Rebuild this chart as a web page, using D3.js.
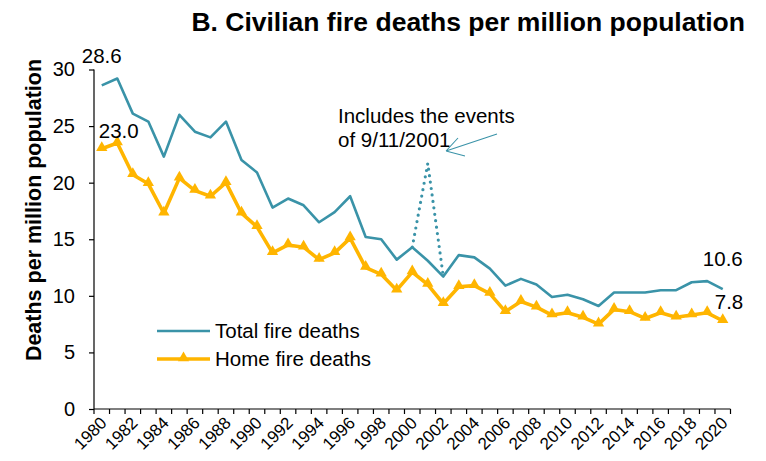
<!DOCTYPE html>
<html>
<head>
<meta charset="utf-8">
<script src="https://cdn.jsdelivr.net/npm/d3@7/dist/d3.min.js"></script>
<style>
  html, body { margin: 0; padding: 0; background: #fff; }
  svg { display: block; font-family: "Liberation Sans", Arial, sans-serif; }
</style>
</head>
<body>
<svg id="chart" width="766" height="461"></svg>
<script>
// Civilian fire deaths per million population, 1980-2020
const years = d3.range(1980, 2021);
const totalDeaths = [
  28.6, 29.2, 26.1, 25.4, 22.3, 26.0, 24.5, 24.0, 25.4, 22.0,
  20.9, 17.8, 18.6, 18.0, 16.5, 17.4, 18.8, 15.2, 15.0, 13.2,
  14.3, 13.1, 11.7, 13.6, 13.4, 12.4, 10.9, 11.5, 11.0, 9.9,
  10.1, 9.7, 9.1, 10.3, 10.3, 10.3, 10.5, 10.5, 11.2, 11.3,
  10.6
];
const homeDeaths = [
  23.0, 23.5, 20.7, 19.9, 17.3, 20.4, 19.3, 18.8, 20.0, 17.3,
  16.1, 13.8, 14.5, 14.3, 13.2, 13.8, 15.1, 12.5, 11.9, 10.5,
  12.1, 11.0, 9.3, 10.8, 10.9, 10.2, 8.6, 9.5, 9.0, 8.3,
  8.5, 8.1, 7.5, 8.8, 8.6, 8.0, 8.5, 8.1, 8.3, 8.5,
  7.8
];
// Total including the events of 9/11/2001
const sept11Years = [2000, 2001, 2002];
const sept11Total = [14.3, 21.7, 11.7];

const yTicks = [0, 5, 10, 15, 20, 25, 30];
const xTickLabels = years.filter(y => y % 2 === 0);

const TEAL = "#3A93A8";
const GOLD = "#FFB500";

const svg = d3.select("#chart");
const plot = { left: 94, right: 730.5, top: 69.5, bottom: 409 };

const x = d3.scaleBand().domain(years).range([plot.left, plot.right]).paddingInner(0).paddingOuter(0);
const cx = yr => x(yr) + x.bandwidth() / 2;
const y = d3.scaleLinear().domain([0, 30]).range([plot.bottom, plot.top]);

// Title
svg.append("text")
  .attr("x", 745).attr("y", 31)
  .attr("text-anchor", "end")
  .attr("font-size", 26.5).attr("font-weight", "bold")
  .text("B. Civilian fire deaths per million population");

// Y axis
const yAxis = svg.append("g")
  .attr("transform", `translate(${plot.left},0)`)
  .call(d3.axisLeft(y).tickValues(yTicks).tickSize(5).tickPadding(14).tickFormat(d3.format("d")));
yAxis.selectAll("text").attr("font-size", 20).attr("font-family", "Liberation Sans, Arial, sans-serif").attr("fill", "#000");
yAxis.selectAll("line, path").attr("stroke", "#000").attr("stroke-width", 1.2);
yAxis.select(".domain").attr("d", `M0,${plot.top}V${plot.bottom}`);

svg.append("text")
  .attr("transform", `translate(41,210) rotate(-90)`)
  .attr("text-anchor", "middle")
  .attr("font-size", 21.5).attr("font-weight", "bold")
  .text("Deaths per million population");

// X axis: category axis with ticks between categories
const xAxis = svg.append("g").attr("transform", `translate(0,${plot.bottom})`);
xAxis.append("line")
  .attr("x1", plot.left).attr("x2", plot.right)
  .attr("stroke", "#000").attr("stroke-width", 1.2);
const boundaries = years.map(yr => x(yr)).concat([plot.right]);
xAxis.selectAll("line.tick").data(boundaries).join("line")
  .attr("class", "tick")
  .attr("x1", d => d).attr("x2", d => d)
  .attr("y1", 0).attr("y2", 5)
  .attr("stroke", "#000").attr("stroke-width", 1.2);
xAxis.selectAll("text.lbl").data(xTickLabels).join("text")
  .attr("class", "lbl")
  .attr("transform", d => `translate(${cx(d) + 6},${15}) rotate(-45)`)
  .attr("text-anchor", "end")
  .attr("font-size", 17)
  .text(d => d);

// Lines
const line = d3.line().x(d => cx(d[0])).y(d => y(d[1]));

svg.append("path")
  .datum(sept11Years.map((yr, i) => [yr, sept11Total[i]]))
  .attr("d", line)
  .attr("fill", "none").attr("stroke", TEAL)
  .attr("stroke-width", 3.2).attr("stroke-linecap", "round")
  .attr("stroke-dasharray", "0 6.5");

svg.append("path")
  .datum(years.map((yr, i) => [yr, totalDeaths[i]]))
  .attr("d", line)
  .attr("fill", "none").attr("stroke", TEAL).attr("stroke-width", 2.6)
  .attr("stroke-linejoin", "round");

svg.append("path")
  .datum(years.map((yr, i) => [yr, homeDeaths[i]]))
  .attr("d", line)
  .attr("fill", "none").attr("stroke", GOLD).attr("stroke-width", 3.6)
  .attr("stroke-linejoin", "round");

const tri = d3.symbol().type(d3.symbolTriangle).size(55);
svg.selectAll("path.marker").data(years.map((yr, i) => [yr, homeDeaths[i]])).join("path")
  .attr("class", "marker")
  .attr("d", tri)
  .attr("transform", d => `translate(${cx(d[0])},${y(d[1]) - 1})`)
  .attr("fill", GOLD);

// Value labels at the ends
const fmt = d3.format(".1f");
const labels = [
  { yr: 1980, v: totalDeaths[0], dx: -20, dy: -22, anchor: "start" },
  { yr: 1980, v: homeDeaths[0], dx: -3, dy: -11, anchor: "start" },
  { yr: 2020, v: totalDeaths[totalDeaths.length - 1], dx: 20, dy: -23, anchor: "end" },
  { yr: 2020, v: homeDeaths[homeDeaths.length - 1], dx: 20.5, dy: -12, anchor: "end" }
];
svg.selectAll("text.val").data(labels).join("text")
  .attr("class", "val")
  .attr("x", d => cx(d.yr) + d.dx)
  .attr("y", d => y(d.v) + d.dy)
  .attr("text-anchor", d => d.anchor)
  .attr("font-size", 20.5)
  .text(d => fmt(d.v));

// Annotation for 2001
const ann = svg.append("g");
ann.append("text")
  .attr("x", 338).attr("y", 123)
  .attr("font-size", 20.5)
  .selectAll("tspan").data(["Includes the events", "of 9/11/2001"]).join("tspan")
  .attr("x", 338).attr("dy", (d, i) => i === 0 ? 0 : 24)
  .text(d => d);
const tip = [446, 151];
ann.append("path")
  .attr("d", `M${tip[0]},${tip[1]}L497,134 M${tip[0]},${tip[1]}L458,138 M${tip[0]},${tip[1]}L465,156`)
  .attr("fill", "none").attr("stroke", TEAL).attr("stroke-width", 1.1);

// Legend
const legend = svg.append("g");
const legendItems = [
  { name: "Total fire deaths", color: TEAL, width: 2.6, marker: false, yy: 331 },
  { name: "Home fire deaths", color: GOLD, width: 3.6, marker: true, yy: 359 }
];
legendItems.forEach(it => {
  legend.append("line")
    .attr("x1", 157).attr("x2", 210).attr("y1", it.yy).attr("y2", it.yy)
    .attr("stroke", it.color).attr("stroke-width", it.width);
  if (it.marker) {
    legend.append("path").attr("d", tri)
      .attr("transform", `translate(183.5,${it.yy - 1})`).attr("fill", it.color);
  }
  legend.append("text")
    .attr("x", 215).attr("y", it.yy + 7)
    .attr("font-size", 20.5)
    .text(it.name);
});
</script>
</body>
</html>
